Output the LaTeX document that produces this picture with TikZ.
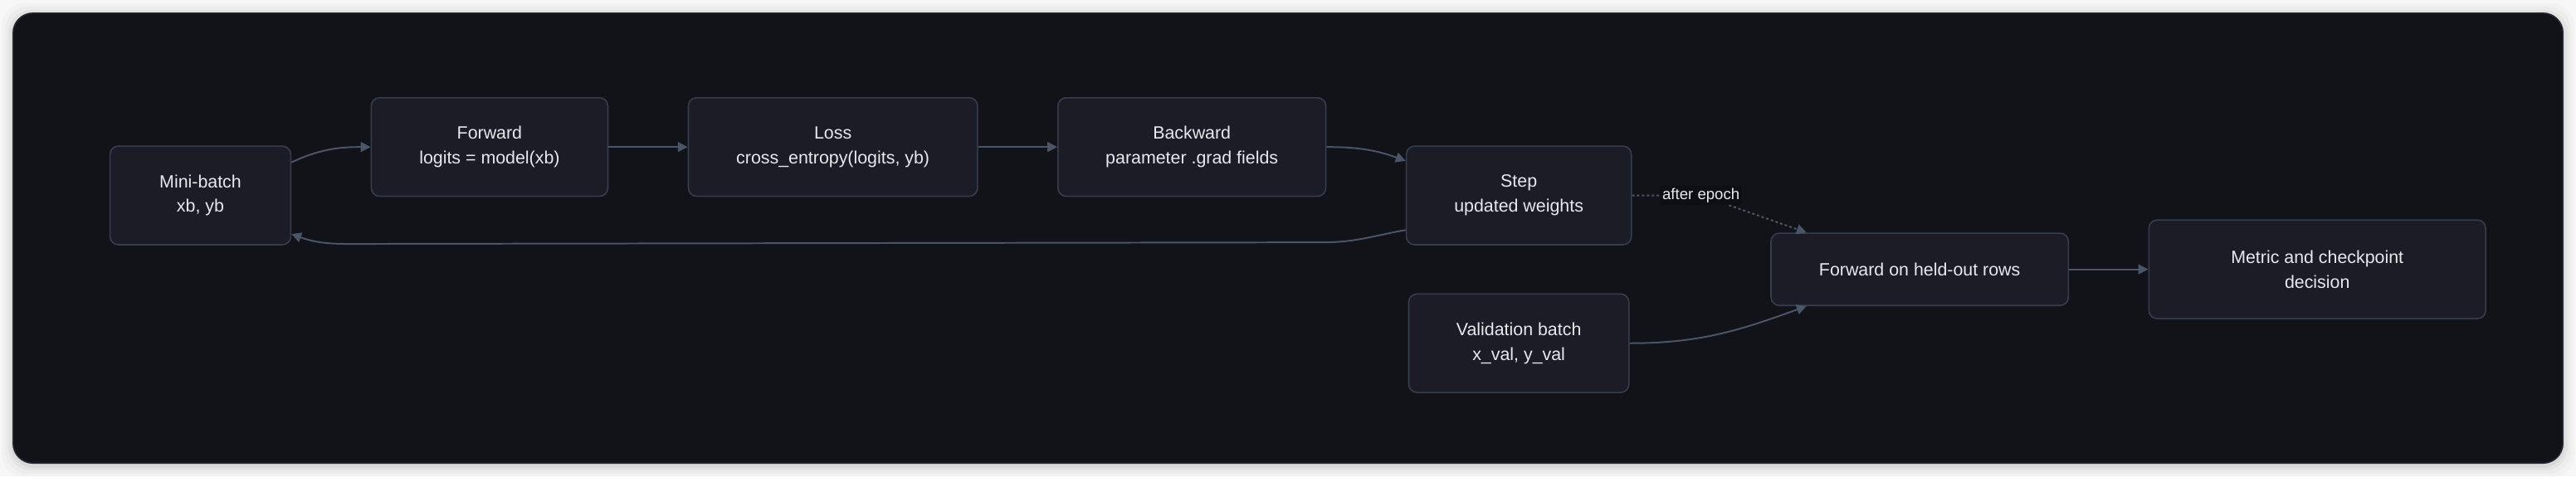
\documentclass[tikz,border=0pt]{standalone}
\usepackage{fontspec}
\setmainfont{Liberation Sans}
\usepackage{xcolor}
\usepackage{tikz}
\usetikzlibrary{arrows.meta,positioning,calc}
\definecolor{pagebg}{RGB}{247,247,248}
\definecolor{panelbg}{RGB}{17,19,25}
\definecolor{panelline}{RGB}{34,40,52}
\definecolor{boxfill}{RGB}{27,28,38}
\definecolor{boxline}{RGB}{52,62,78}
\definecolor{edgegray}{RGB}{74,85,104}
\definecolor{textwhite}{RGB}{232,233,237}
\definecolor{labelbg}{RGB}{14,15,20}

\begin{document}
\begin{tikzpicture}[
    x=1pt, y=1pt,
    node distance=29.2pt and 48.2pt,
    box/.style={rectangle, rounded corners=5pt, draw=boxline, line width=0.8pt, fill=boxfill,
        text=textwhite, minimum height=60pt, align=center, inner sep=0pt,
        font=\fontsize{10.8}{15}\selectfont},
    arr/.style={-{Triangle[length=6pt,width=6pt]}, draw=edgegray, line width=1pt},
    dotarr/.style={arr, dash pattern=on 1.5pt off 1.5pt},
    lbl/.style={fill=labelbg, text=textwhite, inner sep=1.5pt, font=\fontsize{9.4}{11}\selectfont}
]
\useasboundingbox (0,0) rectangle (1568,-290);
\fill[pagebg] (0,0) rectangle (1568,-290);
\foreach \s/\o in {7/0.02,5/0.025,3/0.035,1.5/0.045}
    \fill[black, opacity=\o, rounded corners=14pt] (8-\s,-8+\s-1) rectangle (1560+\s,-282-\s-1.5);
\draw[draw=panelline, fill=panelbg, line width=0.8pt, rounded corners=12pt] (8,-8) rectangle (1560,-282);

\node[box, minimum width=110pt] (minibatch) at (122,-119) {Mini-batch\\xb, yb};
\node[box, minimum width=144pt, right=of minibatch, yshift=29.5pt] (forward) {Forward\\logits = model(xb)};
\node[box, minimum width=176pt, right=of forward] (loss) {Loss\\cross\_entropy(logits, yb)};
\node[box, minimum width=163pt, right=of loss] (backward) {Backward\\parameter .grad fields};
\node[box, minimum width=137pt, right=of backward, yshift=-29.5pt] (step) {Step\\updated weights};
\node[box, minimum width=134pt, below=of step] (valbatch) {Validation batch\\x\_val, y\_val};
\node[box, minimum width=181pt, minimum height=44pt, right=84.2pt of step, yshift=-45pt] (heldout) {Forward on held-out rows};
\node[box, minimum width=205pt, right=of heldout] (metric) {Metric and checkpoint\\decision};

\draw[arr] (minibatch.20) to[out=25,in=180] (forward.west);
\draw[arr] (forward.east) -- (loss.west);
\draw[arr] (loss.east) -- (backward.west);
\draw[arr] (backward.east) to[out=0,in=160] (step.163);
\draw[arr] (step.197) to[out=190,in=0] ($(step.197)+(-50,-7.5)$) -- ($(minibatch.337)+(50,-6)$) to[out=180,in=-20] (minibatch.337);
\draw[dotarr] (step.east) -- ++(42,0) node[lbl] {after epoch} -- ([xshift=22pt]heldout.north west);
\draw[arr] (valbatch.east) to[out=0,in=200] ([xshift=22pt]heldout.south west);
\draw[arr] (heldout.east) -- (metric.west);
\end{tikzpicture}
\end{document}
